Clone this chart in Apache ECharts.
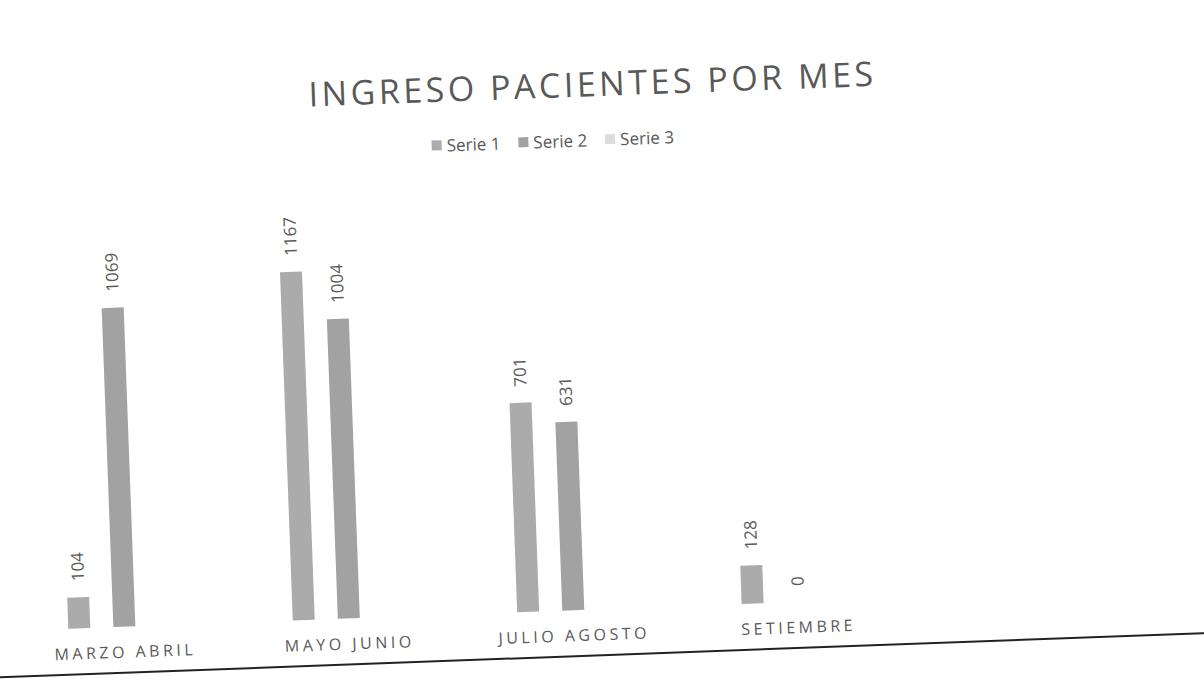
<!DOCTYPE html>
<html>
<head>
<meta charset="utf-8">
<script src="https://cdn.jsdelivr.net/npm/echarts@6/dist/echarts.min.js"></script>
<style>
  html, body { margin: 0; padding: 0; background: #fff; overflow: hidden; }
  #wrap {
    position: absolute; left: 0; top: 0; width: 1204px; height: 686px;
    transform: rotate(-2.1deg); transform-origin: 602px 343px;
  }
  #chart { position: absolute; left: 0; top: 0; width: 1204px; height: 686px; }
  #edge {
    position: absolute; left: -80px; top: 654px; width: 1380px; height: 0;
    border-top: 2px solid #222;
  }
  /* Excel style spaced caps for title and category labels */
  #chart text[style*="tspaced"] { letter-spacing: 3.5px; }
  #chart text[font-family*="tspaced"] { letter-spacing: 3.5px; }
</style>
</head>
<body>
<div id="wrap">
  <div id="chart"></div>
  <div id="edge"></div>
</div>
<script>
// datos del grafico
var meses = ['MARZO ABRIL', 'MAYO JUNIO', 'JULIO AGOSTO', 'SETIEMBRE', ''];
var serie1 = [104, 1167, 701, 128, null];
var serie2 = [1069, 1004, 631, 0, null];
var serie3 = [null, null, null, null, null];
var nombres = ['Serie 1', 'Serie 2', 'Serie 3'];

var chart = echarts.init(document.getElementById('chart'), null, { renderer: 'svg' });

var etiqueta = {
  show: true,
  position: 'top',
  rotate: 90,
  align: 'left',
  verticalAlign: 'middle',
  distance: 16,
  color: '#595959',
  fontSize: 17,
  fontFamily: "'Open Sans', sans-serif"
};

var option = {
  animation: false,
  backgroundColor: '#fff',
  title: {
    text: 'INGRESO PACIENTES POR MES',
    left: 'center',
    top: 61,
    textStyle: {
      color: '#595959',
      fontSize: 34,
      fontWeight: 'normal',
      fontFamily: "'Open Sans', tspaced"
    }
  },
  legend: {
    data: nombres,
    left: 434,
    top: 126,
    itemWidth: 10,
    itemHeight: 10,
    itemGap: 18,
    icon: 'rect',
    textStyle: {
      color: '#595959',
      fontSize: 17,
      fontFamily: "'Open Sans', sans-serif"
    }
  },
  grid: {
    left: 2,
    right: 79,
    top: 191,
    bottom: 77,
    containLabel: false
  },
  xAxis: {
    type: 'category',
    data: meses,
    axisLine: { show: false },
    axisTick: { show: false },
    axisLabel: {
      margin: 17,
      color: '#595959',
      fontSize: 16,
      fontFamily: "'Open Sans', tspaced"
    },
    splitLine: { show: false }
  },
  yAxis: {
    type: 'value',
    min: 0,
    max: 1400,
    show: false,
    splitLine: { show: false }
  },
  series: [
    {
      name: nombres[0],
      type: 'bar',
      data: serie1,
      barWidth: 22,
      barGap: '105%',
      itemStyle: { color: '#ababab' },
      label: etiqueta
    },
    {
      name: nombres[1],
      type: 'bar',
      data: serie2,
      barWidth: 22,
      barGap: '105%',
      itemStyle: { color: '#a2a2a2' },
      label: etiqueta
    },
    {
      name: nombres[2],
      type: 'bar',
      data: serie3,
      barWidth: 22,
      barGap: '105%',
      itemStyle: { color: '#dcdcdc' },
      label: etiqueta
    }
  ]
};

chart.setOption(option);
</script>
</body>
</html>
